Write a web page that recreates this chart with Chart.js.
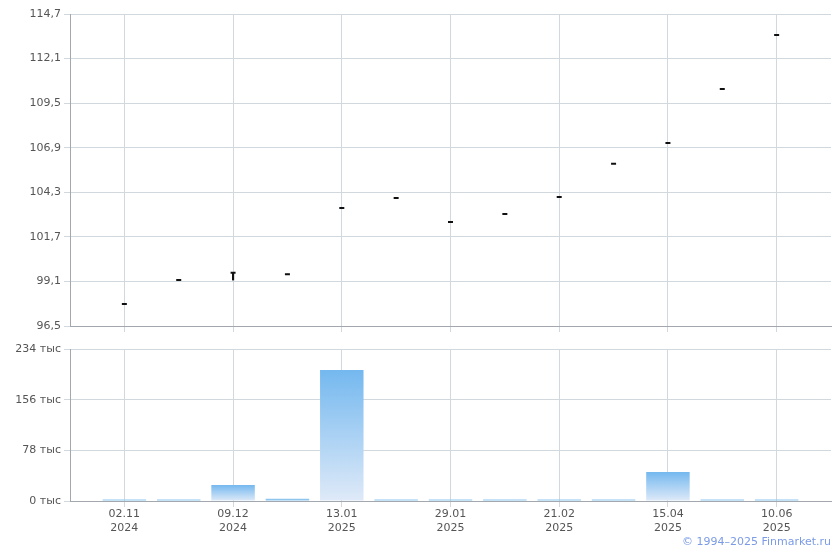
<!DOCTYPE html>
<html>
<head>
<meta charset="utf-8">
<script src="https://cdn.jsdelivr.net/npm/chart.js@4"></script>
<style>
  body { margin: 0; background: #fff; }
  #wrap { position: relative; width: 840px; height: 550px; }
  .box { position: absolute; left: 0; width: 840px; }
  #priceBox { top: 0; height: 340px; }
  #volBox { top: 335px; height: 215px; }
  #copy { position: absolute; right: 9px; top: 535px; font: 11px "DejaVu Sans", Verdana, sans-serif; color: #7b9be6; }
</style>
</head>
<body>
<div id="wrap">
  <div class="box" id="priceBox"><canvas id="priceChart"></canvas></div>
  <div class="box" id="volBox"><canvas id="volChart"></canvas></div>
  <div id="copy">© 1994–2025 Finmarket.ru</div>
</div>
<script>
const dayLabels = ["02.11", "", "09.12", "", "13.01", "", "29.01", "", "21.02", "", "15.04", "", "10.06"];
const yearLabels = ["2024", "", "2024", "", "2025", "", "2025", "", "2025", "", "2025", "", "2025"];

const priceClose = [97.78, 99.18, 99.6, 99.52, 103.38, 103.97, 102.57, 103.03, 104.03, 105.97, 107.18, 110.33, 113.48];
const priceLow   = [97.78, 99.18, 99.18, 99.52, 103.38, 103.97, 102.57, 103.03, 104.03, 105.97, 107.18, 110.33, 113.48];
const priceHigh  = [97.78, 99.18, 99.6, 99.52, 103.38, 103.97, 102.57, 103.03, 104.03, 105.97, 107.18, 110.33, 113.48];

const volume = [2.5, 2.5, 24.6, 3.4, 201.7, 2.5, 2.5, 2.5, 2.5, 2.5, 44.6, 2.5, 2.5]; // тыс

const priceTicks = [96.5, 99.1, 101.7, 104.3, 106.9, 109.5, 112.1, 114.7];
const volTicks = [0, 78, 156, 234];

// one empty slot at each end so the axis runs past the first and last point
const pad = arr => [null, ...arr, null];
const labels = pad(dayLabels.map((d, i) => d ? [d, yearLabels[i]] : ""));
const hasLabel = i => i > 0 && i <= dayLabels.length && dayLabels[i - 1] !== "";
const tickIdx = ctx => (ctx.tick && ctx.tick.value != null) ? ctx.tick.value : ctx.index;

const FONT = { family: "'DejaVu Sans', Verdana, sans-serif", size: 11 };
const GRID = "#d1d8de";
const AXIS = "#a3a8ae";
const TEXT = "#555555";

const xGrid = {
  offset: false,
  color: ctx => hasLabel(tickIdx(ctx)) ? GRID : "rgba(0,0,0,0)",
  tickLength: 6,
  tickColor: ctx => hasLabel(tickIdx(ctx)) ? GRID : "rgba(0,0,0,0)"
};

function yScale(ticks, fmt, width) {
  return {
    min: ticks[0],
    max: ticks[ticks.length - 1],
    afterBuildTicks: s => { s.ticks = ticks.map(v => ({ value: v })); },
    afterFit: s => { s.width = width; },
    border: { color: AXIS },
    grid: { color: GRID, tickLength: 6, tickColor: GRID },
    ticks: { font: FONT, color: TEXT, padding: 3, callback: fmt }
  };
}

new Chart(document.getElementById("priceChart"), {
  type: "bar",
  data: {
    labels: labels,
    datasets: [
      {
        type: "bar",
        data: pad(priceLow.map((lo, i) => [lo, priceHigh[i]])),
        backgroundColor: "#111",
        barThickness: 1.5
      },
      {
        type: "line",
        data: pad(priceClose),
        showLine: false,
        pointStyle: "line",
        pointRadius: 2.5,
        pointBorderWidth: 2,
        pointBorderColor: "#111",
        pointHoverRadius: 2.5
      }
    ]
  },
  options: {
    responsive: true,
    maintainAspectRatio: false,
    animation: false,
    layout: { padding: { top: 14, right: 9, left: 0, bottom: 0 } },
    plugins: { legend: { display: false }, tooltip: { enabled: false } },
    scales: {
      x: {
        offset: false,
        afterFit: s => { s.height = 14; },
        border: { color: AXIS },
        grid: xGrid,
        ticks: { display: false, autoSkip: false }
      },
      y: yScale(priceTicks, v => v.toFixed(1).replace(".", ","), 70)
    }
  }
});

new Chart(document.getElementById("volChart"), {
  type: "bar",
  data: {
    labels: labels,
    datasets: [{
      data: pad(volume),
      barPercentage: 0.8,
      categoryPercentage: 1,
      backgroundColor: ctx => {
        const chart = ctx.chart;
        const y = chart.scales && chart.scales.y;
        const v = ctx.raw;
        if (!chart.chartArea || !y || v == null) return "#8ec5f0";
        const top = y.getPixelForValue(v);
        const bottom = y.getPixelForValue(0);
        if (bottom - top < 4) return "#8ec5f0";
        const g = chart.ctx.createLinearGradient(0, top, 0, bottom);
        g.addColorStop(0, "#74b8ef");
        g.addColorStop(1, "#dfeaf8");
        return g;
      }
    }]
  },
  options: {
    responsive: true,
    maintainAspectRatio: false,
    animation: false,
    layout: { padding: { top: 14, right: 9, left: 0, bottom: 0 } },
    plugins: { legend: { display: false }, tooltip: { enabled: false } },
    scales: {
      x: {
        offset: false,
        afterFit: s => { s.height = 49; },
        border: { color: AXIS },
        grid: xGrid,
        ticks: { font: FONT, color: TEXT, autoSkip: false, maxRotation: 0, padding: 1 }
      },
      y: yScale(volTicks, v => v + " тыс", 70)
    }
  }
});
</script>
</body>
</html>
